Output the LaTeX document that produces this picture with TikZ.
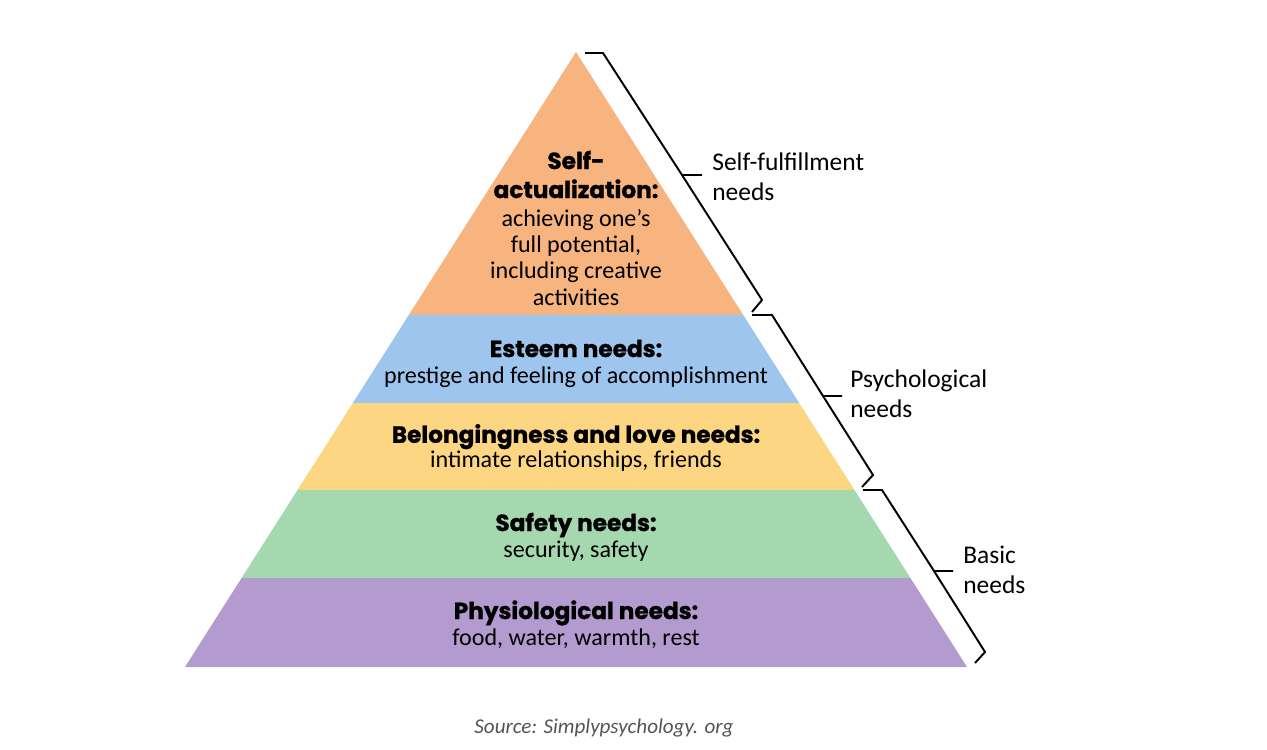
\documentclass[tikz,border=0pt]{standalone}
\usepackage{fontspec}
\setmainfont{Carlito}
\newfontfamily\headfont{Poppins}[BoldFeatures={FakeBold=1.2}]
\definecolor{selfC}{RGB}{248,180,127}
\definecolor{esteemC}{RGB}{157,197,237}
\definecolor{loveC}{RGB}{253,214,132}
\definecolor{safeC}{RGB}{166,216,176}
\definecolor{physC}{RGB}{179,155,207}
\definecolor{srcC}{RGB}{85,85,85}
\newcommand{\hd}[1]{{\headfont\bfseries\fontsize{13.2}{14.8}\selectfont #1}}
\begin{document}
\begin{tikzpicture}[x=0.02cm,y=-0.02cm,
	lvl/.style={align=center,anchor=base,inner sep=0pt,font=\fontsize{13.7}{14.8}\selectfont},
	side/.style={align=left,anchor=base west,inner sep=0pt,font=\fontsize{14.5}{17}\selectfont},
	brc/.style={line width=1.1pt,line join=miter}]
	\useasboundingbox (0,0) rectangle (1267,750);
	% pyramid bands
	\foreach \a/\b/\c in {52/315/selfC,315/403/esteemC,403/490/loveC,490/578/safeC,578/667/physC}
		\fill[\c] ({576-(\a-52)*0.6358},\a) -- ({576+(\a-52)*0.6358},\a) -- ({576+(\b-52)*0.6358},\b) -- ({576-(\b-52)*0.6358},\b) -- cycle;
	\node[lvl] (self) at (576,305) {\hd{Self-}\\[1.7pt]\hd{actualization:}\\[1.7pt]achieving one’s\\full potential,\\including creative\\activities};
	\node[lvl] (esteem) at (576,383) {\hd{Esteem needs:}\\prestige and feeling of accomplishment};
	\node[lvl] (love) at (576,467) {\hd{Belongingness and love needs:}\\[-1pt]intimate relationships, friends};
	\node[lvl] (safety) at (576,557) {\hd{Safety needs:}\\security, safety};
	\node[lvl] (physio) at (576,645) {\hd{Physiological needs:}\\food, water, warmth, rest};
	% brackets
	\draw[brc] (585,53) -- (603,53) -- (682,175) -- (702,175) (682,175) -- (762,300) -- (752,312);
	\draw[brc] (752,315) -- (772,315) -- (823,396) -- (842,396) (823,396) -- (873,475) -- (862,487);
	\draw[brc] (863,490) -- (882,490) -- (934,571) -- (953,571) (934,571) -- (985,652) -- (975,663);
	\node[side] (selfF) at (712,200) {Self-fulfillment\\needs};
	\node[side] (psych) at (850,417) {Psychological\\needs};
	\node[side] (basic) at (963,593) {Basic\\needs};
	\node[anchor=base,inner sep=0pt,text=srcC,font=\fontsize{12}{14}\selectfont\itshape] (src) at (604,733) {Source: Simplypsychology. org};
\end{tikzpicture}
\end{document}
